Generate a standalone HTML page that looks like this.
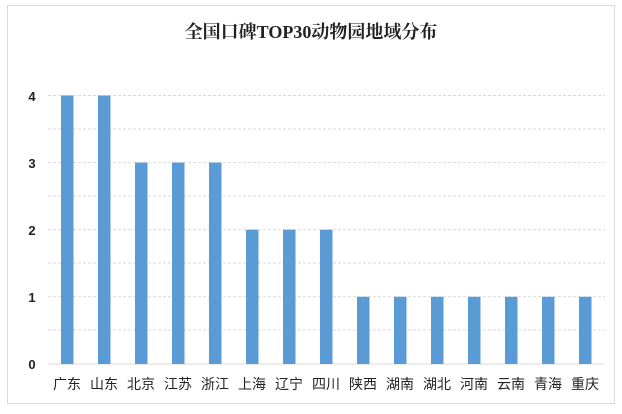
<!DOCTYPE html>
<html><head><meta charset="utf-8"><style>
body{margin:0;background:#fff;}
</style></head><body>
<svg width="622" height="409" xmlns="http://www.w3.org/2000/svg" font-family="Liberation Sans, Noto Sans CJK SC, sans-serif">
<rect x="7.5" y="5.5" width="607" height="398" fill="#fff" stroke="#d9d9d9"/>
<text x="311" y="38" text-anchor="middle" font-size="18" fill="#222" font-weight="bold" font-family="Liberation Serif, Noto Serif CJK SC, serif">全国口碑TOP30动物园地域分布</text>
<g stroke="#d9d9d9" stroke-dasharray="3,2">
<line x1="48" x2="605" y1="95.5" y2="95.5"/>
<line x1="48" x2="605" y1="129" y2="129"/>
<line x1="48" x2="605" y1="162.6" y2="162.6"/>
<line x1="48" x2="605" y1="196" y2="196"/>
<line x1="48" x2="605" y1="229.7" y2="229.7"/>
<line x1="48" x2="605" y1="263" y2="263"/>
<line x1="48" x2="605" y1="296.8" y2="296.8"/>
<line x1="48" x2="605" y1="330" y2="330"/>
</g>
<line x1="48" x2="605" y1="364" y2="364" stroke="#d9d9d9"/>
<g font-size="13" font-weight="bold" fill="#222" text-anchor="middle">
<text x="32" y="101">4</text><text x="32" y="168">3</text><text x="32" y="235">2</text><text x="32" y="302">1</text><text x="32" y="369">0</text>
</g>
<g fill="#5b9bd5">
<rect x="61" y="95.5" width="12.5" height="268.5"/>
<rect x="98" y="95.5" width="12.5" height="268.5"/>
<rect x="135" y="162.6" width="12.5" height="201.4"/>
<rect x="172" y="162.6" width="12.5" height="201.4"/>
<rect x="209" y="162.6" width="12.5" height="201.4"/>
<rect x="246" y="229.7" width="12.5" height="134.3"/>
<rect x="283" y="229.7" width="12.5" height="134.3"/>
<rect x="320" y="229.7" width="12.5" height="134.3"/>
<rect x="357" y="296.8" width="12.5" height="67.2"/>
<rect x="394" y="296.8" width="12.5" height="67.2"/>
<rect x="431" y="296.8" width="12.5" height="67.2"/>
<rect x="468" y="296.8" width="12.5" height="67.2"/>
<rect x="505" y="296.8" width="12.5" height="67.2"/>
<rect x="542" y="296.8" width="12.5" height="67.2"/>
<rect x="579" y="296.8" width="12.5" height="67.2"/>
</g>
<g font-size="14" fill="#222" text-anchor="middle">
<text x="67" y="389">广东</text><text x="104" y="389">山东</text><text x="141" y="389">北京</text><text x="178" y="389">江苏</text><text x="215" y="389">浙江</text><text x="252" y="389">上海</text><text x="289" y="389">辽宁</text><text x="326" y="389">四川</text><text x="363" y="389">陕西</text><text x="400" y="389">湖南</text><text x="437" y="389">湖北</text><text x="474" y="389">河南</text><text x="511" y="389">云南</text><text x="548" y="389">青海</text><text x="585" y="389">重庆</text>
</g>
</svg>
</body></html>
